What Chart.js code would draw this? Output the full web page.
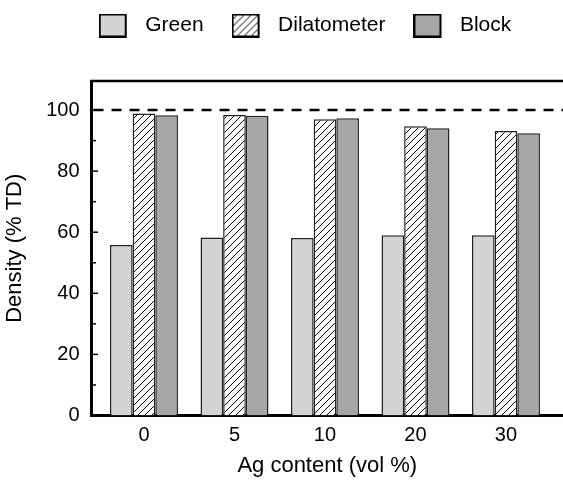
<!DOCTYPE html>
<html>
<head>
<meta charset="utf-8">
<script src="https://cdn.jsdelivr.net/npm/chart.js"></script>
<style>
  html, body { margin: 0; padding: 0; background: #fff; overflow: hidden; }
</style>
</head>
<body>
<canvas id="myChart" width="563" height="480"></canvas>
<script>
const categories = ["0", "5", "10", "20", "30"];
const seriesNames = ["Green", "Dilatometer", "Block"];
const greenValues = [55.8, 58.3, 58.1, 59.0, 59.0];
const dilatometerValues = [98.9, 98.4, 97.0, 94.7, 93.1];
const blockValues = [98.3, 98.1, 97.3, 94.0, 92.4];
const yTickLabels = [0, 20, 40, 60, 80, 100];
const theoreticalDensity = 100;

const FONT = '"Liberation Sans", Arial, sans-serif';
Chart.defaults.font.family = FONT;
Chart.defaults.color = "#000";

const canvas = document.getElementById("myChart");
const ctx = canvas.getContext("2d");

// diagonal hatch tile for the dilatometer bars
function hatchTile(size) {
  const c = document.createElement("canvas");
  c.width = size; c.height = size;
  const g = c.getContext("2d");
  g.fillStyle = "#fff";
  g.fillRect(0, 0, size, size);
  g.strokeStyle = "#000";
  g.lineWidth = 1;
  g.beginPath();
  g.moveTo(-1, size + 1); g.lineTo(size + 1, -1);
  g.moveTo(-1, 1); g.lineTo(1, -1);
  g.moveTo(size - 1, size + 1); g.lineTo(size + 1, size - 1);
  g.stroke();
  return c;
}
const hatch = ctx.createPattern(hatchTile(7), "repeat");
const fills = ["#d4d4d4", hatch, "#a6a6a6"];

// legend swatches drawn as images (box plus gap before the text)
function swatch(i) {
  const c = document.createElement("canvas");
  c.width = 36; c.height = 24;
  const g = c.getContext("2d");
  g.fillStyle = i === 1 ? g.createPattern(hatchTile(7), "repeat") : fills[i];
  g.fillRect(1, 1, 26, 22);
  g.strokeStyle = "#000";
  g.lineWidth = 2;
  g.strokeRect(1, 1, 26, 22);
  return c;
}
const swatches = [0, 1, 2].map(swatch);

const frame = {
  id: "frame",
  afterLayout(chart) {
    chart.legend.left += 47;
    chart.legend.top -= 35;
  },
  afterDatasetsDraw(chart) {
    const {ctx, chartArea: a, scales: {y}} = chart;
    ctx.save();
    ctx.strokeStyle = "#000";
    ctx.lineWidth = 2.5;
    ctx.beginPath();
    ctx.moveTo(a.left - 1.5, a.top);
    ctx.lineTo(chart.width, a.top);
    ctx.stroke();
    ctx.lineWidth = 1.5;
    y.ticks.forEach(t => {
      const py = y.getPixelForValue(t.value);
      const len = t.value % 20 === 0 ? 5 : 3;
      ctx.beginPath();
      ctx.moveTo(a.left, py);
      ctx.lineTo(a.left + 1.5 + len, py);
      ctx.stroke();
    });
    ctx.lineWidth = 2.5;
    ctx.setLineDash([10, 8]);
    const py = y.getPixelForValue(theoreticalDensity);
    ctx.beginPath();
    ctx.moveTo(a.left + 2, py);
    ctx.lineTo(chart.width, py);
    ctx.stroke();
    ctx.restore();
  }
};

const seriesValues = [greenValues, dilatometerValues, blockValues];

new Chart(canvas, {
  type: "bar",
  data: {
    datasets: seriesNames.map((name, s) => ({
      label: name,
      data: seriesValues[s].map((v, i) => ({x: i, y: v})),
      backgroundColor: fills[s],
      borderColor: "#222",
      borderWidth: 1.5,
      categoryPercentage: 0.751,
      barPercentage: 1.0
    }))
  },
  options: {
    responsive: false,
    animation: false,
    layout: {padding: {top: 22, left: 0, right: 0, bottom: 0}},
    plugins: {
      legend: {
        position: "top",
        align: "center",
        labels: {
          usePointStyle: true,
          pointStyleWidth: 36,
          padding: 28,
          color: "#000",
          font: {size: 21},
          generateLabels: chart =>
            Chart.defaults.plugins.legend.labels.generateLabels(chart)
              .map((item, i) => Object.assign(item, {pointStyle: swatches[i]}))
        }
      },
      tooltip: {enabled: false}
    },
    scales: {
      x: {
        type: "linear",
        min: -0.58,
        max: 4.63,
        offset: false,
        grid: {display: false, drawTicks: false},
        border: {display: true, color: "#000", width: 3},
        ticks: {
          stepSize: 1,
          includeBounds: false,
          autoSkip: false,
          padding: 8,
          font: {size: 20},
          callback: v => categories[v] ?? ""
        },
        title: {display: true, text: "Ag content (vol %)", font: {size: 22}, padding: {top: 5, bottom: 1}},
        afterFit: s => { s.height = 64.5; }
      },
      y: {
        min: 0,
        max: 109.5,
        grid: {display: false, drawTicks: false},
        border: {display: true, color: "#000", width: 3},
        ticks: {
          stepSize: 10,
          includeBounds: false,
          autoSkip: false,
          padding: 12,
          font: {size: 20},
          callback: v => yTickLabels.includes(v) ? v : ""
        },
        title: {display: true, text: "Density (% TD)", font: {size: 22}, padding: {top: 2, bottom: 4}},
        afterFit: s => { s.width = 91.5; }
      }
    }
  },
  plugins: [frame]
});
</script>
</body>
</html>
